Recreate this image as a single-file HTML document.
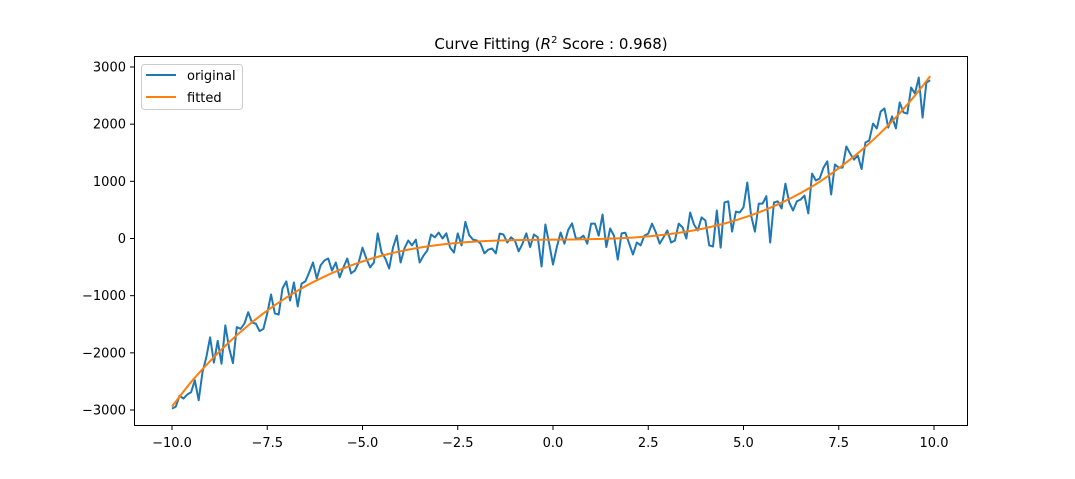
<!DOCTYPE html>
<html><head><meta charset="utf-8"><style>
html,body{margin:0;padding:0;background:#fff;}
svg{display:block;font-family:"DejaVu Sans","Liberation Sans",sans-serif;}
</style></head><body>
<svg id="chart" width="1075" height="479" viewBox="0 0 1075 479">
<rect x="0" y="0" width="1075" height="479" fill="#fff"/>
<text x="551" y="49" text-anchor="middle" font-size="15" fill="#000">Curve Fitting (<tspan font-style="italic">R</tspan><tspan font-size="10" dy="-6">2</tspan><tspan dy="6"> Score : 0.968)</tspan></text>
<g id="plot"></g>
<rect x="134.5" y="56.5" width="833" height="369" fill="none" stroke="#000" stroke-width="1"/>
<g>
<rect x="141.5" y="64.5" width="101" height="45" rx="3" fill="#fff" fill-opacity="0.8" stroke="#ccc"/>
<line x1="146" y1="75" x2="176" y2="75" stroke="#1f77b4" stroke-width="2"/>
<text x="187" y="80" font-size="13" fill="#000">original</text>
<line x1="146" y1="97" x2="176" y2="97" stroke="#ff7f0e" stroke-width="2"/>
<text x="187" y="102" font-size="13" fill="#000">fitted</text>
</g>
</svg>
<script>
const originalY = [-2975,-2940,-2750,-2800,-2730,-2690,-2480,-2830,-2340,-2080,-1730,-2170,-1790,-2190,-1520,-1920,-2180,-1550,-1580,-1490,-1290,-1470,-1490,-1620,-1580,-1310,-980,
-1310,-1330,-875,-750,-1085,-770,-1190,-790,-750,-595,-420,-700,-470,-385,-350,-560,-420,-680,-505,-350,-610,-560,-420,-160,-350,-505,-420,90,-245,-350,-525,-160,50,-420,-175,-35,-120,-20,-420,-300,-210,70,20,105,0,90,-160,-245,90,-120,290,60,-20,-35,-90,-260,-195,-175,-260,85,70,-70,20,-35,-225,-90,90,-150,70,20,-490,245,-90,-455,-150,105,-90,150,265,0,0,50,-90,260,260,50,420,-150,175,50,-370,90,100,-90,-280,-70,-120,50,85,260,105,-90,20,140,-70,-35,260,195,0,455,245,140,370,315,-120,-140,490,-160,630,650,120,470,455,545,980,400,120,610,610,740,-70,630,650,525,960,630,490,650,680,750,440,1135,1015,1050,1240,1350,770,1295,1240,1240,1610,1485,1380,1450,1215,1680,1715,2010,1925,2220,2275,1940,2135,1925,2380,2205,2185,2640,2535,2815,2115,2730,2765];
const fittedX = [-10,-9.5,-9,-8.5,-8,-7.5,-7,-6.5,-6,-5.5,-5,-4.5,-4,-3.5,-3,-2.5,-2,-1.5,-1,-0.5,0,0.5,1,1.5,2,2.5,3,3.5,4,4.5,5,5.5,6,6.5,7,7.5,8,8.5,9,9.5,9.9];
const fittedY = [-2940,-2511,-2143,-1813,-1519,-1260,-1033,-835,-666,-522,-401,-302,-222,-160,-112,-77,-53,-37,-28,-23,-20,-17,-12,-3,13,37,72,120,182,262,361,482,626,796,993,1230,1490,1785,2120,2500,2840];
const xTicks = [-10,-7.5,-5,-2.5,0,2.5,5,7.5,10];
const xTickLabels = ["\u221210.0","\u22127.5","\u22125.0","\u22122.5","0.0","2.5","5.0","7.5","10.0"];
const yTicks = [-3000,-2000,-1000,0,1000,2000,3000];
const yTickLabels = ["\u22123000","\u22122000","\u22121000","0","1000","2000","3000"];
const xStart = -10, xStep = 0.1;

const NS = "http://www.w3.org/2000/svg";
const svg = document.getElementById('chart');
const plot = document.getElementById('plot');
function sx(v){ return 172 + (v + 10) * 38.1; }
function sy(v){ return 238.5 - v * 0.05717; }
function mk(tag, attrs, parent){
  const e = document.createElementNS(NS, tag);
  for (const k in attrs) e.setAttribute(k, attrs[k]);
  (parent || svg).appendChild(e);
  return e;
}
xTicks.forEach((t, i) => {
  const x = sx(t);
  const tk = mk('line', {x1:x, y1:425.5, x2:x, y2:430, stroke:'#000', 'stroke-width':1});
  
  
  const lb = mk('text', {x:x, y:447, 'text-anchor':'middle', 'font-size':13, fill:'#000'});
  lb.textContent = xTickLabels[i];
  
  
});
yTicks.forEach((t, i) => {
  const y = sy(t);
  const tk = mk('line', {x1:130, y1:y, x2:134.5, y2:y, stroke:'#000', 'stroke-width':1});
  
  
  const lb = mk('text', {x:126, y:y + 4.5, 'text-anchor':'end', 'font-size':13, fill:'#000'});
  lb.textContent = yTickLabels[i];
  
  
});
const op = originalY.map((v, i) => sx(xStart + i * xStep).toFixed(2) + ',' + sy(v).toFixed(2)).join(' ');
const oLine = mk('polyline', {points:op, fill:'none', stroke:'#1f77b4', 'stroke-width':2, 'stroke-linejoin':'round'}, plot);


const fp = fittedX.map((x, i) => [sx(x), sy(fittedY[i])]);
let d = 'M' + fp[0][0] + ',' + fp[0][1];
for (let i = 0; i < fp.length - 1; i++) {
  const p0 = fp[i - 1] || fp[i], p1 = fp[i], p2 = fp[i + 1], p3 = fp[i + 2] || p2;
  const c1 = [p1[0] + (p2[0] - p0[0]) / 6, p1[1] + (p2[1] - p0[1]) / 6];
  const c2 = [p2[0] - (p3[0] - p1[0]) / 6, p2[1] - (p3[1] - p1[1]) / 6];
  d += ' C' + c1.join(',') + ' ' + c2.join(',') + ' ' + p2.join(',');
}
const fLine = mk('path', {d:d, fill:'none', stroke:'#ff7f0e', 'stroke-width':2}, plot);


</script>
</body></html>
